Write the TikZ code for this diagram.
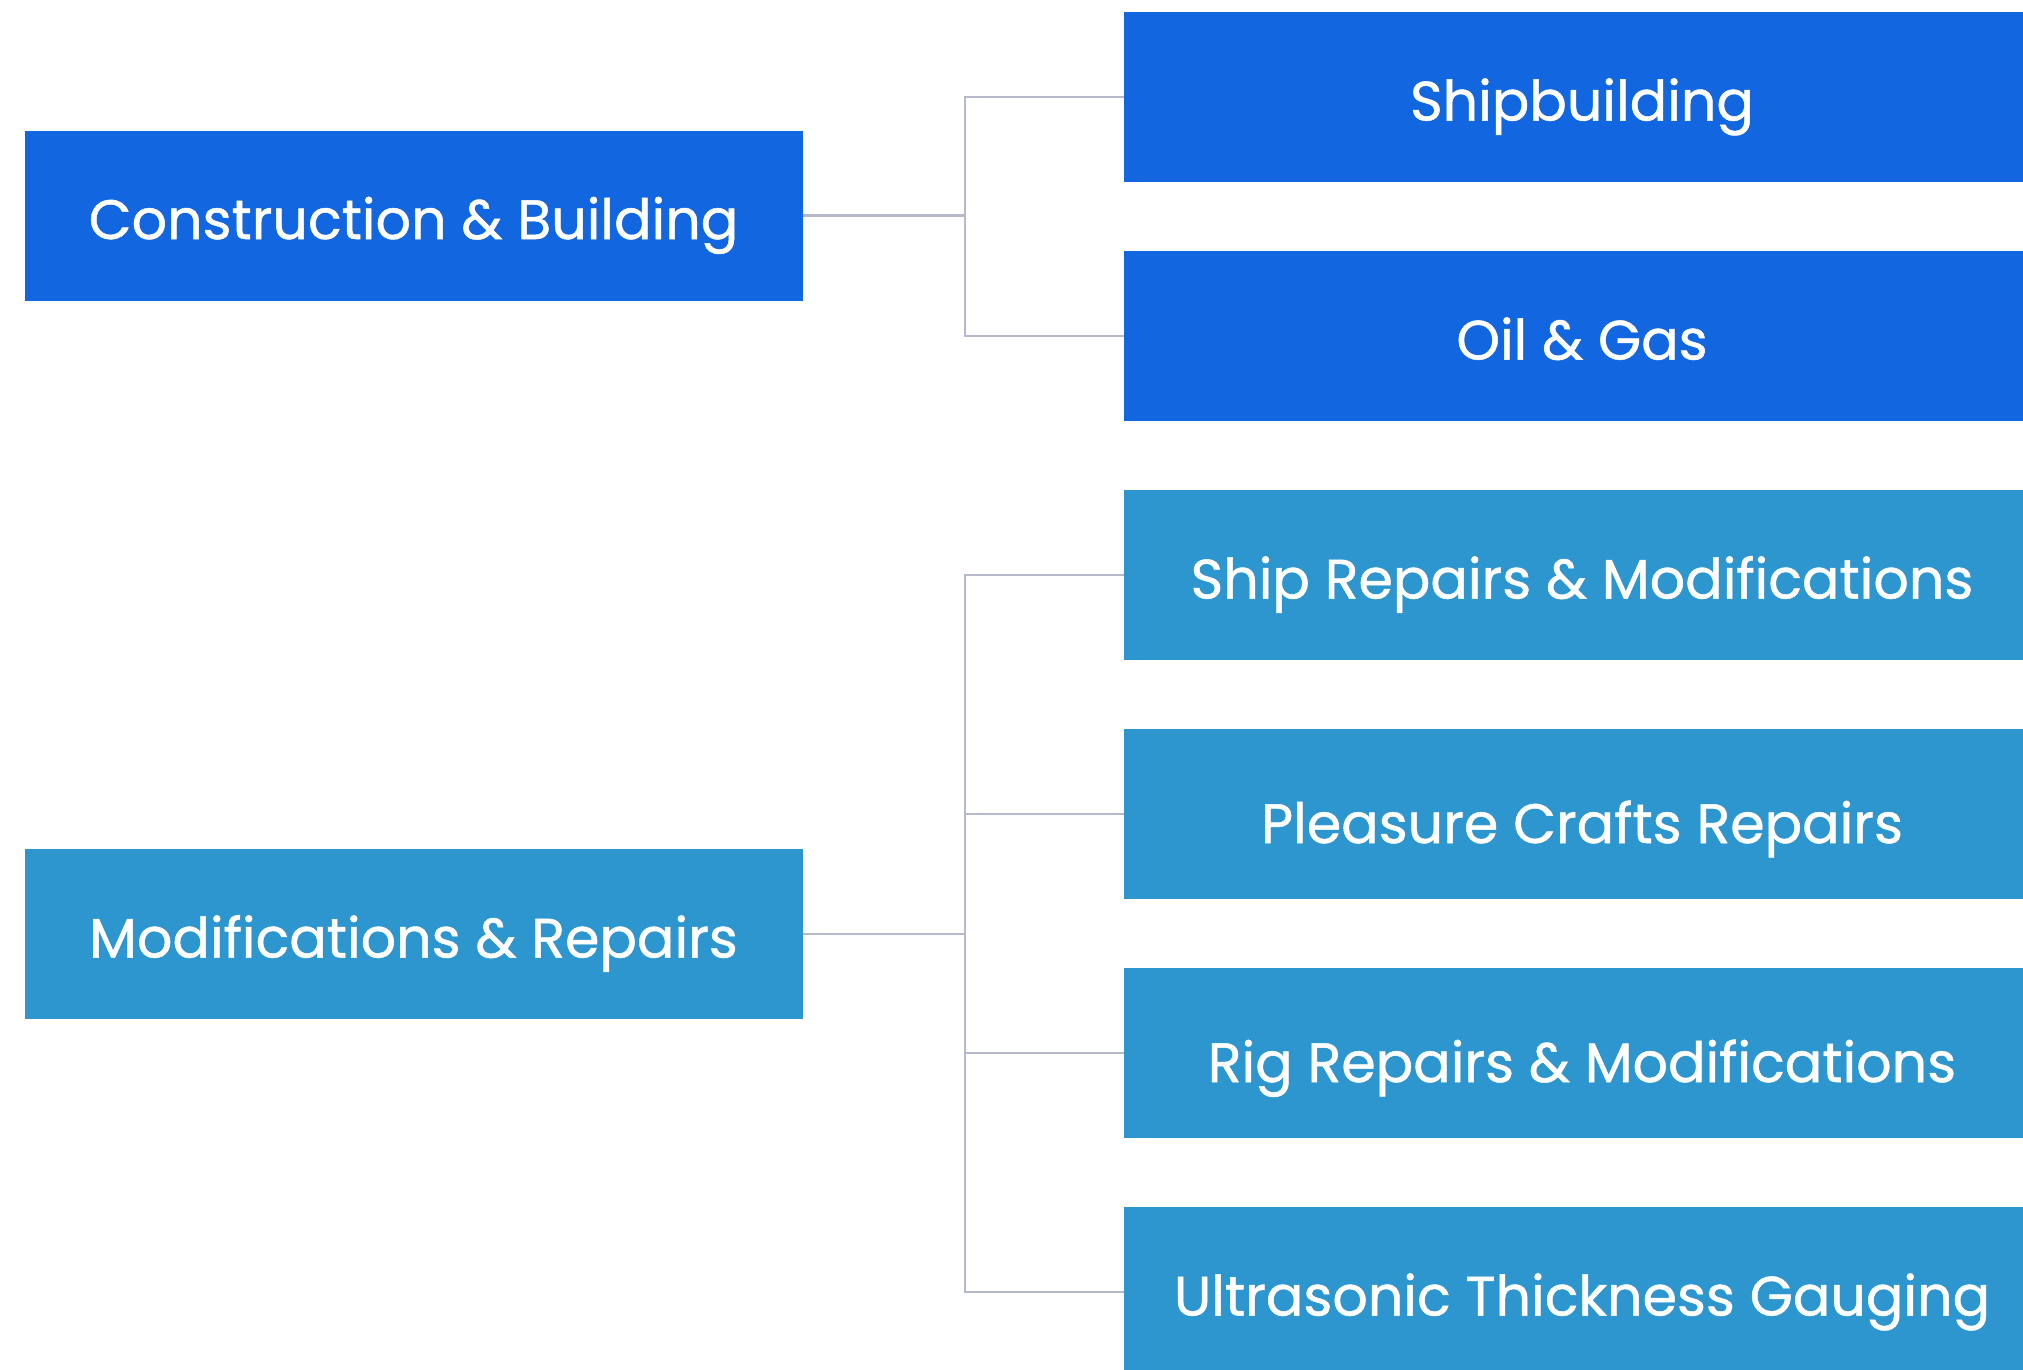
\documentclass[tikz,border=0pt]{standalone}
\usepackage{fontspec}
\setmainfont{Poppins}[FakeBold=0.9]
\usetikzlibrary{positioning}
\definecolor{darkblue}{RGB}{18,102,224}
\definecolor{lightblue}{RGB}{46,150,207}
\definecolor{linkgrey}{RGB}{182,184,204}
\tikzset{
  box/.style={rectangle, inner sep=0pt, text=white, text height=47pt, text depth=0pt,
    font=\fontsize{55.5}{60}\selectfont},
  lowtext/.style={text height=58pt},
  leftbox/.style={box, minimum width=778pt, minimum height=170pt},
  rightbox/.style={box, minimum width=916pt, minimum height=170pt},
  link/.style={draw=linkgrey, line width=2.2pt}
}
\begin{document}
\begin{tikzpicture}[x=1pt,y=1pt]
\useasboundingbox (0,0) rectangle (2023,-1369);
\fill[white] (0,0) rectangle (2023,-1369);
\begin{scope}
\clip (0,0) rectangle (2023,-1369);
\node[leftbox, fill=darkblue] (cb) at (413.5,-215.5) {Construction \& Building};
\node[leftbox, fill=lightblue] (mr) at (413.5,-934) {Modifications \& Repairs};
\node[rightbox, fill=darkblue] (sb) at (1582,-97) {Shipbuilding};
\node[rightbox, fill=darkblue] (og) at (1582,-336) {Oil \& Gas};
\node[rightbox, fill=lightblue] (sr) at (1582,-575) {Ship Repairs \& Modifications};
\node[rightbox, lowtext, fill=lightblue] (pc) at (1582,-814) {Pleasure Crafts Repairs};
\node[rightbox, lowtext, fill=lightblue] (rr) at (1582,-1053) {Rig Repairs \& Modifications};
\node[rightbox, fill=lightblue] (ut) at (1582,-1292) {Ultrasonic Thickness Gauging};
\end{scope}
\coordinate (j1) at (965,-215.5);
\coordinate (j2) at (965,-934);
\draw[link] (cb.east) -- (j1);
\draw[link] (j1) |- (sb.west);
\draw[link] (j1) |- (og.west);
\draw[link] (mr.east) -- (j2);
\draw[link] (j2) |- (sr.west);
\draw[link] (j2) |- (pc.west);
\draw[link] (j2) |- (rr.west);
\draw[link] (j2) |- (ut.west);
\end{tikzpicture}
\end{document}
